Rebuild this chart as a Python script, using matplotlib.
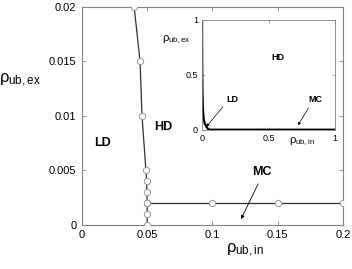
import matplotlib
matplotlib.use("Agg")
import matplotlib.pyplot as plt

plt.rcParams['font.family'] = ['Liberation Sans', 'DejaVu Sans']
plt.rcParams['mathtext.fontset'] = 'custom'
plt.rcParams['mathtext.rm'] = 'Liberation Sans'
plt.rcParams['mathtext.it'] = 'Liberation Sans'

# phase boundary LD/HD (main plot)
ld_hd_x = [0.040, 0.0445, 0.046, 0.049, 0.0495, 0.0497, 0.050, 0.050, 0.050]
ld_hd_y = [0.020, 0.015, 0.010, 0.005, 0.004, 0.003, 0.002, 0.001, 0.0]
# boundary HD/MC
hd_mc_x = [0.05, 0.10, 0.15, 0.20]
hd_mc_y = [0.002, 0.002, 0.002, 0.002]

# inset: full range boundary
inset_x = [0.0, 0.001, 0.003, 0.006, 0.012, 0.02, 0.035, 0.05, 1.0]
inset_y = [1.0, 0.6, 0.35, 0.2, 0.1, 0.06, 0.025, 0.002, 0.002]

grey = '#808080'

fig = plt.figure(figsize=(3.52, 2.69), dpi=100)
ax = fig.add_axes([0.233, 0.164, 0.741, 0.810])

ax.plot(ld_hd_x, ld_hd_y, '-', color='#303030', lw=0.9, marker='o', ms=4.5,
        mfc='white', mec='#999999', mew=0.7, zorder=3)
ax.plot(hd_mc_x, hd_mc_y, '-', color='#303030', lw=0.9, marker='o', ms=4.5,
        mfc='white', mec='#999999', mew=0.7, zorder=3)

ax.set_xlim(0, 0.2)
ax.set_ylim(0, 0.02)
ax.set_xticks([0, 0.05, 0.1, 0.15, 0.2])
ax.set_xticklabels(['0', '0.05', '0.1', '0.15', '0.2'])
ax.set_yticks([0, 0.005, 0.01, 0.015, 0.02])
ax.set_yticklabels(['0', '0.005', '0.01', '0.015', '0.02'])
ax.tick_params(direction='in', length=3, width=0.6, color=grey, labelsize=8,
               top=True, right=True, pad=4)
for s in ax.spines.values():
    s.set_color(grey)
    s.set_linewidth(0.8)

ax.text(0.0155, 0.0075, 'LD', fontsize=9, fontweight='bold', ha='center', va='center')
ax.text(0.062, 0.0090, 'HD', fontsize=9, fontweight='bold', ha='center', va='center')
ax.text(0.138, 0.0049, 'MC', fontsize=9, fontweight='bold', ha='center', va='center')
ax.annotate('', xy=(0.121, 0.0003), xytext=(0.136, 0.0040),
            arrowprops=dict(arrowstyle='-|>', color='black', lw=0.6,
                            mutation_scale=5))

fig.text(0.057, 0.70, r'$\rho_{\mathrm{ub,ex}}$', fontsize=12, ha='center', va='center')
fig.text(0.696, 0.07, r'$\rho_{\mathrm{ub,in}}$', fontsize=12, ha='center', va='center')

# inset
ins = fig.add_axes([0.574, 0.517, 0.378, 0.409])
ins.plot(inset_x, inset_y, '-', color='black', lw=1.6)
ins.set_xlim(0, 1)
ins.set_ylim(0, 1)
ins.set_xticks([0, 0.5, 1])
ins.set_xticklabels(['0', '0.5', '1'])
ins.set_yticks([0, 0.5, 1])
ins.set_yticklabels(['0', '0.5', '1'])
ins.tick_params(direction='in', length=2.5, width=0.5, color=grey, labelsize=6.5,
                top=True, right=True, pad=3)
for s in ins.spines.values():
    s.set_color(grey)
    s.set_linewidth(0.6)

ins.text(0.57, 0.66, 'HD', fontsize=6.5, fontweight='bold', ha='center', va='center')
ins.text(0.23, 0.28, 'LD', fontsize=6.5, fontweight='bold', ha='center', va='center')
ins.text(0.85, 0.28, 'MC', fontsize=6.5, fontweight='bold', ha='center', va='center')
ins.annotate('', xy=(0.02, 0.01), xytext=(0.17, 0.23),
             arrowprops=dict(arrowstyle='-|>', color='black', lw=0.5,
                             mutation_scale=4))
ins.annotate('', xy=(0.71, 0.02), xytext=(0.81, 0.22),
             arrowprops=dict(arrowstyle='-|>', color='black', lw=0.5,
                             mutation_scale=4))

fig.text(0.50, 0.851, r'$\rho_{\mathrm{ub,ex}}$', fontsize=8, ha='center', va='center')
fig.text(0.858, 0.472, r'$\rho_{\mathrm{ub,in}}$', fontsize=8, ha='center', va='center')

fig.savefig('out.png', dpi=100)
